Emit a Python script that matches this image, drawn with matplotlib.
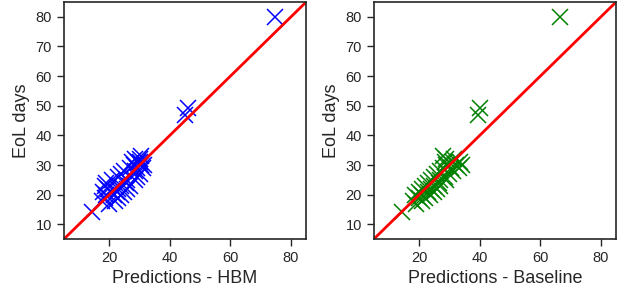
import matplotlib
matplotlib.use("Agg")
import matplotlib.pyplot as plt
import seaborn as sns

sns.set_style("ticks")
plt.rcParams['font.family'] = ['Liberation Sans', 'DejaVu Sans']

# observed end-of-life days
eol_days = [14.3, 17, 18, 18, 19, 19, 20, 20, 20, 21, 21, 21, 22, 22, 22,
            23, 23, 23, 24, 24, 25, 25, 25, 26, 26, 27, 27, 28, 28, 29,
            29, 29, 30, 30, 30, 31, 31, 31, 32, 32, 33, 46.9, 49.1, 80]

# predictions of the hierarchical model
pred_hbm = [14.4, 20, 17.5, 22, 18.5, 23, 19, 21.5, 24, 18, 22.5, 25, 19.5, 23, 26,
            18.5, 24, 27, 19, 25.5, 21, 26, 28.5, 23, 29, 24, 30, 25, 28.5, 27,
            29, 31, 28, 30.5, 31.5, 27.5, 29.5, 30, 28.5, 30, 30.5, 45.0, 45.9, 74.7]

# predictions of the baseline model
pred_base = [14.4, 19, 18, 21, 20, 22, 18.5, 21, 23.5, 20, 23, 25, 21, 24, 26,
             22, 25, 27, 23, 26.5, 24, 27, 29, 25, 28.5, 26, 30, 27, 31, 28,
             30.5, 33, 29, 32, 34, 28.5, 31, 33.5, 29, 31.5, 28, 39.5, 40.0, 66.4]

fig = plt.figure(figsize=(6.39, 2.93), dpi=100)
ax1 = fig.add_axes([0.100, 0.184, 0.379, 0.809])
ax2 = fig.add_axes([0.585, 0.184, 0.379, 0.809])

panels = [(ax1, pred_hbm, 'blue', 'Predictions - HBM'),
          (ax2, pred_base, 'green', 'Predictions - Baseline')]

for ax, pred, col, xlabel in panels:
    ax.plot(pred, eol_days, 'x', color=col, markersize=11.5, markeredgewidth=1.1)
    ax.plot([5, 85], [5, 85], color='red', lw=2)
    ax.set_xlim(5, 85)
    ax.set_ylim(5, 85)
    ax.set_xticks([20, 40, 60, 80])
    ax.set_yticks([10, 20, 30, 40, 50, 60, 70, 80])
    ax.tick_params(labelsize=10.5, length=5, width=1, color='#262626')
    ax.set_xlabel(xlabel, fontsize=13, color='#262626')
    ax.set_ylabel('EoL days', fontsize=13, color='#262626')
    for s in ax.spines.values():
        s.set_color('#262626')
        s.set_linewidth(1.2)

fig.savefig('out.png', dpi=100)
